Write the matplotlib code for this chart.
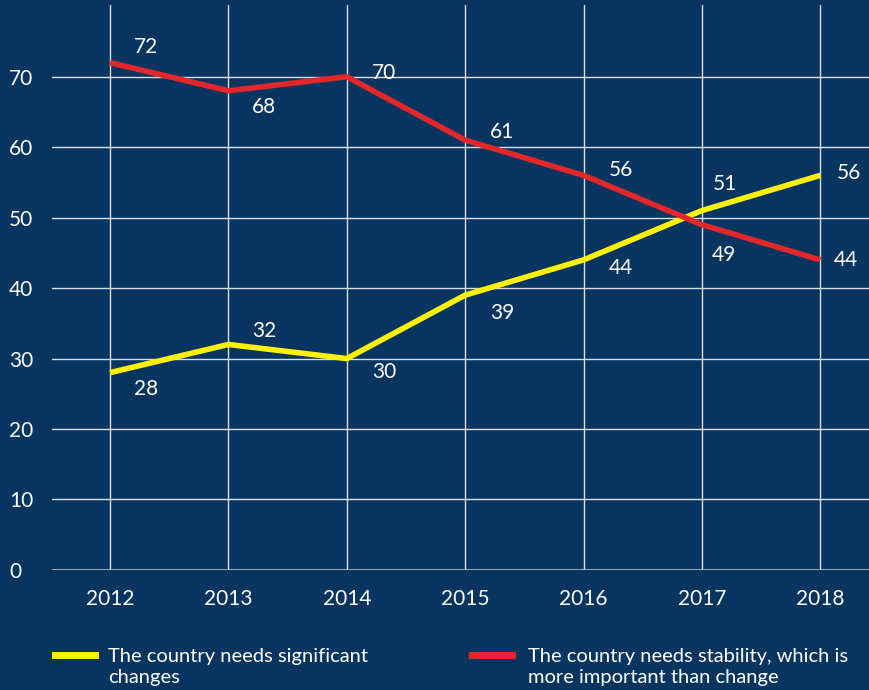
import matplotlib.pyplot as plt

# data
years = [2012, 2013, 2014, 2015, 2016, 2017, 2018]
changes = [28, 32, 30, 39, 44, 51, 56]
stability = [72, 68, 70, 61, 56, 49, 44]
labels_changes = ['The country needs significant\nchanges']
labels_stability = ['The country needs stability, which is\nmore important than change']

bg = '#073560'
yellow = '#fff200'
red = '#e3272a'
plt.rcParams['font.family'] = ['Lato', 'DejaVu Sans']

fig = plt.figure(figsize=(8.7, 6.9), dpi=100, facecolor=bg)
ax = fig.add_axes([0.0598, 0.174, 0.9402, 0.819])
ax.set_facecolor(bg)

ax.plot(years, changes, color=yellow, lw=4, solid_capstyle='butt', zorder=3)
ax.plot(years, stability, color=red, lw=4, solid_capstyle='butt', zorder=3)

ax.set_xlim(2011.51, 2018.42)
ax.set_ylim(0, 80.2)
ax.set_xticks(years)
ax.set_yticks(range(0, 80, 10))
ax.grid(True, color='#d8dde6', lw=1)
ax.set_axisbelow(True)
for s in ax.spines.values():
    s.set_visible(False)
ax.axhline(0, color='#a9b4c4', lw=2, zorder=1)
ax.tick_params(length=0, colors='white', labelsize=15)
ax.tick_params(axis='x', pad=14)
ax.tick_params(axis='y', pad=31)
for t in ax.get_yticklabels():
    t.set_horizontalalignment('left')

# value labels (offsets in points)
off_changes = [(17, -12), (17, 10), (18, -10), (18, -13), (18, -6), (8, 19), (12, 2)]
off_stability = [(17, 11), (17, -12), (18, 3), (18, 6), (18, 4), (7, -22), (10, 0)]
for x, y, o in zip(years, changes, off_changes):
    ax.annotate(str(y), (x, y), xytext=o, textcoords='offset points',
                color='white', fontsize=15, ha='left', va='center')
for x, y, o in zip(years, stability, off_stability):
    ax.annotate(str(y), (x, y), xytext=o, textcoords='offset points',
                color='white', fontsize=15, ha='left', va='center')

# legend
fig.lines.append(plt.Line2D([55/870, 95/870], [1-655/690]*2, color=yellow, lw=5, transform=fig.transFigure))
fig.lines.append(plt.Line2D([472/870, 512/870], [1-655/690]*2, color=red, lw=5, transform=fig.transFigure))
fig.text(108/870, 1-667/690, labels_changes[0], color='white', fontsize=14.5, va='center', linespacing=1.25)
fig.text(528/870, 1-667/690, labels_stability[0], color='white', fontsize=14.5, va='center', linespacing=1.25)

fig.savefig('out.png', dpi=100, facecolor=bg)
